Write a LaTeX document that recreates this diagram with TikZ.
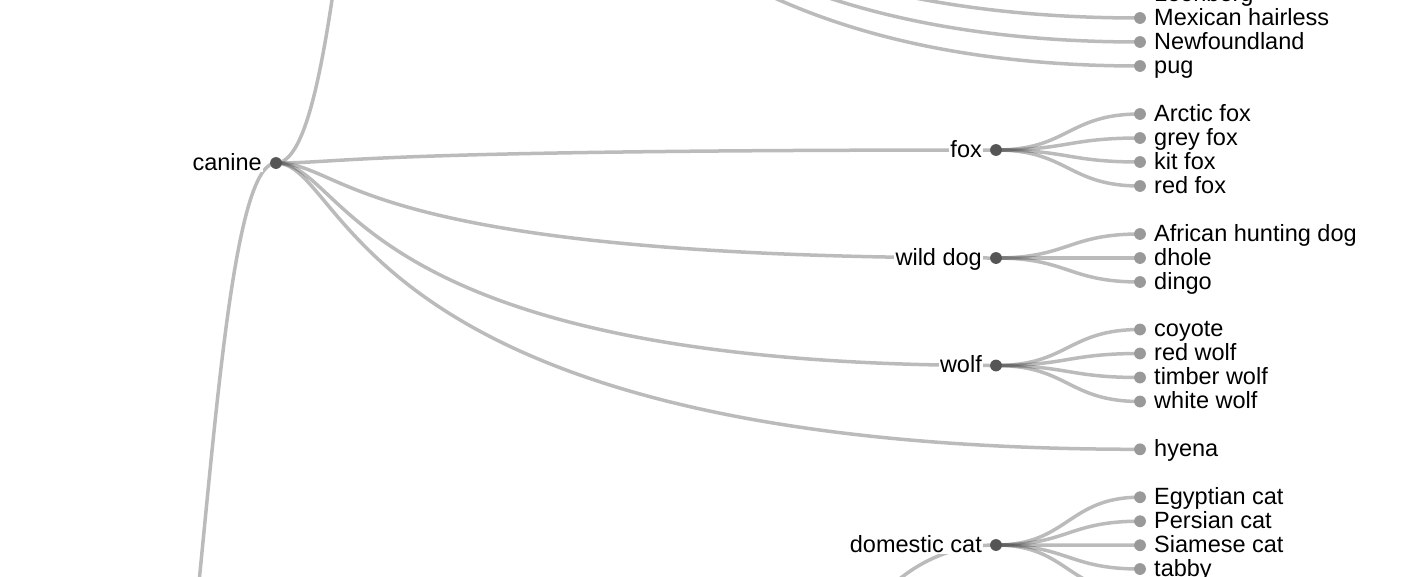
\documentclass[tikz,border=0pt]{standalone}
\usepackage{fontspec}
\setmainfont{Liberation Sans}
\usepackage{tikz}
\definecolor{linkc}{HTML}{555555}
\definecolor{innerc}{HTML}{555555}
\definecolor{leafc}{HTML}{999999}
\pgfdeclarelayer{links}
\pgfsetlayers{links,main}
% dot + label of a branch node / of a leaf
\newcommand{\branch}[4]{\node[innerdot] (#1) at (#2,#3) {};
  \node[innertxt] (#1-t) at ([xshift=-12.5pt,yshift=-7.3pt]#1.center) {#4};}
\newcommand{\leafnode}[3]{\node[leafdot] (#1) at (1140,#2) {};
  \node[leaftxt] (#1-t) at ([xshift=12.5pt,yshift=-7.3pt]#1.center) {#3};}

\begin{document}
\begin{tikzpicture}[x=1pt,y=-1pt,font=\fontsize{23.5}{28}\selectfont,
  dotnode/.style={circle,inner sep=0pt,minimum size=11.8pt},
  innerdot/.style={dotnode,fill=innerc},
  leafdot/.style={dotnode,fill=leafc},
  halo/.style={fill=white,inner sep=1.5pt,text=black},
  innertxt/.style={halo,anchor=base east},
  leaftxt/.style={halo,anchor=base west},
  link/.style={draw=linkc,draw opacity=0.4,line width=3.5pt}]
  \useasboundingbox (0,0) rectangle (1420,576);
  % parents that lie outside the frame
  \coordinate (carnivore) at (132,900);
  \coordinate (dog) at (420,-400);
  \coordinate (cat) at (708,950);
  \branch{canine}{276}{163}{canine}
  \branch{fox}{996}{150}{fox}
  \branch{wilddog}{996}{258}{wild dog}
  \branch{wolf}{996}{365.5}{wolf}
  \branch{domcat}{996}{545}{domestic cat}
  \leafnode{leonberg}{-6}{Leonberg}
  \leafnode{mexican}{18}{Mexican hairless}
  \leafnode{newfoundland}{42}{Newfoundland}
  \leafnode{pug}{66}{pug}
  \leafnode{arctic}{114}{Arctic fox}
  \leafnode{greyfox}{138}{grey fox}
  \leafnode{kitfox}{162}{kit fox}
  \leafnode{redfox}{186}{red fox}
  \leafnode{african}{234}{African hunting dog}
  \leafnode{dhole}{258}{dhole}
  \leafnode{dingo}{282}{dingo}
  \leafnode{coyote}{329.5}{coyote}
  \leafnode{redwolf}{353.5}{red wolf}
  \leafnode{timber}{377.5}{timber wolf}
  \leafnode{white}{401.5}{white wolf}
  \leafnode{hyena}{449.3}{hyena}
  \leafnode{egyptian}{497.2}{Egyptian cat}
  \leafnode{persian}{521.2}{Persian cat}
  \leafnode{siamese}{545.2}{Siamese cat}
  \leafnode{tabby}{569}{tabby}
  \leafnode{tiger}{593}{tiger cat}
  \begin{pgfonlayer}{links}
    \draw[link] (carnivore) .. controls +(72,0) and +(-72,0) .. (canine.center);
    \draw[link] (canine.center) .. controls +(72,0) and +(-72,0) .. (dog);
    \draw[link] (canine.center) .. controls +(72,0) and +(-648,0) .. (fox.center);
    \draw[link] (canine.center) .. controls +(72,0) and +(-648,0) .. (wilddog.center);
    \draw[link] (canine.center) .. controls +(72,0) and +(-648,0) .. (wolf.center);
    \draw[link] (canine.center) .. controls +(72,0) and +(-792,0) .. (hyena.center);
    \draw[link] (cat) .. controls +(72,0) and +(-216,0) .. (domcat.center);
    % dog breeds
    \draw[link] (dog) .. controls +(72,0) and +(-648,0) .. (leonberg.center);
    \draw[link] (dog) .. controls +(72,0) and +(-648,0) .. (mexican.center);
    \draw[link] (dog) .. controls +(72,0) and +(-648,0) .. (newfoundland.center);
    \draw[link] (dog) .. controls +(72,0) and +(-648,0) .. (pug.center);
    % foxes
    \draw[link] (fox.center) .. controls +(72,0) and +(-72,0) .. (arctic.center);
    \draw[link] (fox.center) .. controls +(72,0) and +(-72,0) .. (greyfox.center);
    \draw[link] (fox.center) .. controls +(72,0) and +(-72,0) .. (kitfox.center);
    \draw[link] (fox.center) .. controls +(72,0) and +(-72,0) .. (redfox.center);
    % wild dogs
    \draw[link] (wilddog.center) .. controls +(72,0) and +(-72,0) .. (african.center);
    \draw[link] (wilddog.center) .. controls +(72,0) and +(-72,0) .. (dhole.center);
    \draw[link] (wilddog.center) .. controls +(72,0) and +(-72,0) .. (dingo.center);
    % wolves
    \draw[link] (wolf.center) .. controls +(72,0) and +(-72,0) .. (coyote.center);
    \draw[link] (wolf.center) .. controls +(72,0) and +(-72,0) .. (redwolf.center);
    \draw[link] (wolf.center) .. controls +(72,0) and +(-72,0) .. (timber.center);
    \draw[link] (wolf.center) .. controls +(72,0) and +(-72,0) .. (white.center);
    % cats
    \draw[link] (domcat.center) .. controls +(72,0) and +(-72,0) .. (egyptian.center);
    \draw[link] (domcat.center) .. controls +(72,0) and +(-72,0) .. (persian.center);
    \draw[link] (domcat.center) .. controls +(72,0) and +(-72,0) .. (siamese.center);
    \draw[link] (domcat.center) .. controls +(72,0) and +(-72,0) .. (tabby.center);
    \draw[link] (domcat.center) .. controls +(72,0) and +(-72,0) .. (tiger.center);
  \end{pgfonlayer}
\end{tikzpicture}
\end{document}
